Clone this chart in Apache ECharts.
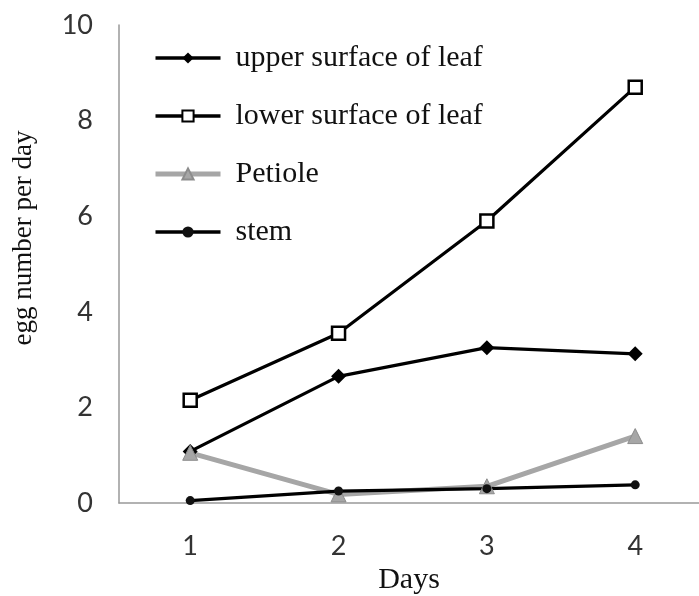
<!DOCTYPE html>
<html>
<head>
<meta charset="utf-8">
<title>egg number per day</title>
<script src="https://cdn.jsdelivr.net/npm/echarts@6/dist/echarts.min.js"></script>
<style type="text/css">
html, body {margin: 0; padding: 0; background: #fff;}
#main {width: 699px; height: 596px;}
</style>
</head>
<body>
<div id="main"></div>
<script type="text/javascript">
// data
var days = [1, 2, 3, 4];
var upperLeaf = [1.08, 2.65, 3.25, 3.12];
var lowerLeaf = [2.15, 3.55, 5.9, 8.7];
var petiole = [1.05, 0.18, 0.35, 1.4];
var stem = [0.05, 0.25, 0.3, 0.38];
var yTicks = [0, 2, 4, 6, 8, 10];

function pairs(vals) {
    return days.map(function (d, i) { return [d, vals[i]]; });
}

var serif = '"Liberation Serif", "Times New Roman", serif';
var sans = 'Lato, "Open Sans", sans-serif';

var myChart = echarts.init(document.getElementById('main'));
var option = {
    animation: false,
    backgroundColor: '#fff',
    grid: {
        left: 119,
        right: 0,
        top: 25,
        bottom: 93,
        containLabel: false,
        outerBoundsMode: 'none'
    },
    legend: {
        orient: 'vertical',
        left: 148,
        top: 38,
        itemWidth: 65,
        itemHeight: 14,
        itemGap: 28,
        textStyle: {
            fontFamily: serif,
            fontSize: 30,
            lineHeight: 30,
            color: '#111',
            padding: [0, 0, 0, 10]
        },
        data: [
            {name: 'upper surface of leaf', lineStyle: {width: 3.5}},
            {name: 'lower surface of leaf', lineStyle: {width: 3.5}},
            {name: 'Petiole', lineStyle: {width: 5}},
            {name: 'stem', lineStyle: {width: 3.5}}
        ]
    },
    xAxis: {
        type: 'value',
        min: 0.52,
        max: 4.43,
        name: 'Days',
        nameLocation: 'middle',
        nameGap: 57,
        nameTextStyle: {fontFamily: serif, fontSize: 30, color: '#111'},
        axisLine: {lineStyle: {color: '#999', width: 1.5}},
        axisTick: {show: false},
        splitLine: {show: false},
        axisLabel: {
            customValues: days,
            margin: 30,
            fontFamily: sans,
            fontSize: 27,
            color: '#333'
        }
    },
    yAxis: {
        type: 'value',
        min: 0,
        max: 10,
        interval: 2,
        name: 'egg number per day',
        nameLocation: 'middle',
        nameGap: 82,
        nameTextStyle: {
            fontFamily: serif,
            fontSize: 27,
            color: '#111',
            padding: [0, 0, 0, 52]
        },
        axisLine: {show: true, lineStyle: {color: '#999', width: 1.5}},
        axisTick: {show: false},
        splitLine: {show: false},
        axisLabel: {
            customValues: yTicks,
            margin: 26,
            fontFamily: sans,
            fontSize: 27,
            color: '#333'
        }
    },
    series: [
        {
            name: 'upper surface of leaf',
            type: 'line',
            data: pairs(upperLeaf),
            symbol: 'diamond',
            symbolSize: 15,
            itemStyle: {color: '#000'},
            lineStyle: {color: '#000', width: 3.2}
        },
        {
            name: 'lower surface of leaf',
            type: 'line',
            data: pairs(lowerLeaf),
            symbol: 'rect',
            symbolSize: 13,
            itemStyle: {color: '#fff', borderColor: '#000', borderWidth: 2.5},
            lineStyle: {color: '#000', width: 3.2}
        },
        {
            name: 'Petiole',
            type: 'line',
            data: pairs(petiole),
            symbol: 'triangle',
            symbolSize: 15,
            itemStyle: {color: '#a6a6a6', borderColor: '#8c8c8c', borderWidth: 1},
            lineStyle: {color: '#a6a6a6', width: 5}
        },
        {
            name: 'stem',
            type: 'line',
            data: pairs(stem),
            symbol: 'circle',
            symbolSize: 9,
            itemStyle: {color: '#111'},
            lineStyle: {color: '#000', width: 3.2}
        }
    ]
};
myChart.setOption(option);
</script>
</body>
</html>
